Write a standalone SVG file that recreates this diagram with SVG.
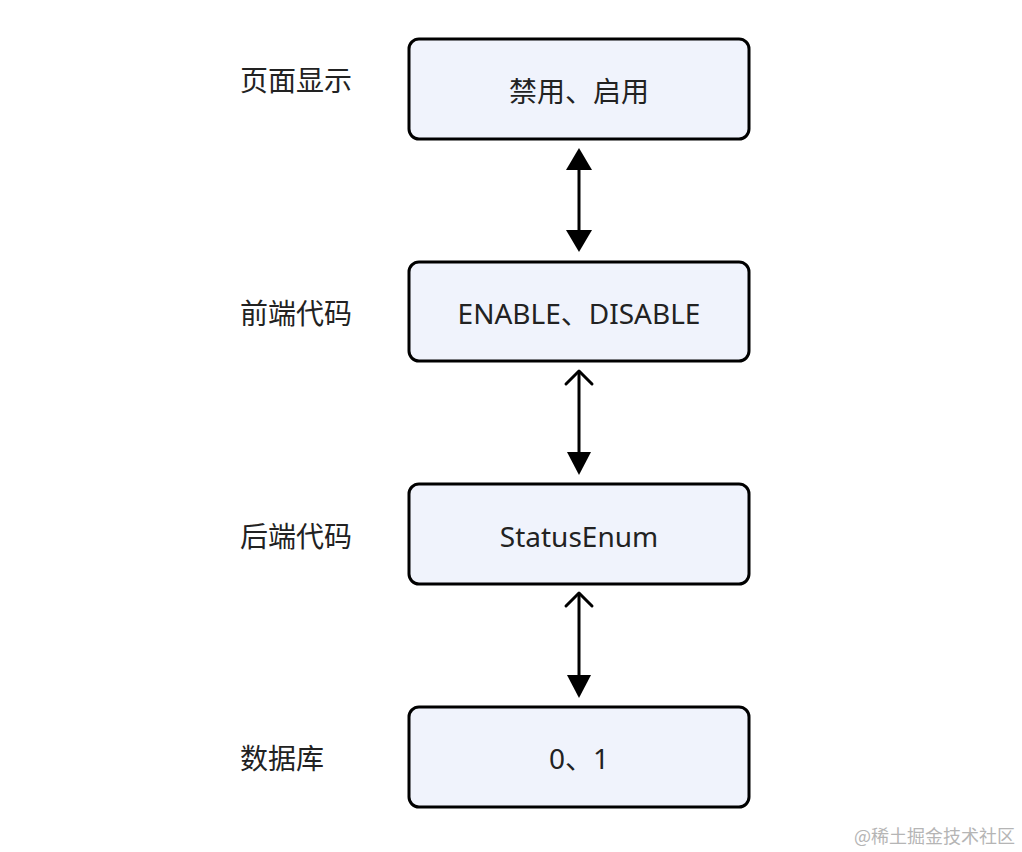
<svg xmlns="http://www.w3.org/2000/svg" width="1022" height="852" viewBox="0 0 1022 852">
<style>
.box{fill:#f0f3fc;stroke:#000;stroke-width:3}
.t{font-family:"Noto Sans","Noto Sans CJK SC",sans-serif;font-size:28px;fill:#222;}
.c{text-anchor:middle;dominant-baseline:central}
.l{dominant-baseline:central}
.ln{stroke:#000;stroke-width:3;fill:none}
.hd{fill:#000}
.op{stroke:#000;stroke-width:3;fill:none;stroke-linecap:round;stroke-linejoin:round}
.wm{font-family:"Noto Sans CJK SC",sans-serif;font-size:18px;fill:#b5b5b5}
</style>
<rect width="1022" height="852" fill="#fff"/>
<g id="label1"><text class="t l" x="240" y="80">页面显示</text></g>
<g id="label2"><text class="t l" x="240" y="313">前端代码</text></g>
<g id="label3"><text class="t l" x="240" y="536">后端代码</text></g>
<g id="label4"><text class="t l" x="240" y="758">数据库</text></g>
<g id="node1"><rect class="box" x="409" y="39" width="340" height="100" rx="10"/><text class="t c" x="579" y="91">禁用、启用</text></g>
<g id="node2"><rect class="box" x="409" y="262" width="340" height="99" rx="10"/><text class="t c" x="579" y="313">ENABLE、DISABLE</text></g>
<g id="node3"><rect class="box" x="409" y="484" width="340" height="100" rx="10"/><text class="t c" x="579" y="536">StatusEnum</text></g>
<g id="node4"><rect class="box" x="409" y="707" width="340" height="100" rx="10"/><text class="t c" x="579" y="758">0、1</text></g>
<g id="connectors">
<line class="ln" x1="579" y1="168" x2="579" y2="232"/>
<polygon class="hd" points="579,148 566,170 592,170"/>
<polygon class="hd" points="579,252 566,230 592,230"/>
<line class="ln" x1="579" y1="372" x2="579" y2="456"/>
<polyline class="op" points="566,384 579,371 592,384"/>
<polygon class="hd" points="579,475 567,452 591,452"/>
<line class="ln" x1="579" y1="594" x2="579" y2="678"/>
<polyline class="op" points="566,606 579,593 592,606"/>
<polygon class="hd" points="579,698 567,675 591,675"/>
</g>
<text class="wm" x="1015" y="835" text-anchor="end" dominant-baseline="central">@稀土掘金技术社区</text>
</svg>
